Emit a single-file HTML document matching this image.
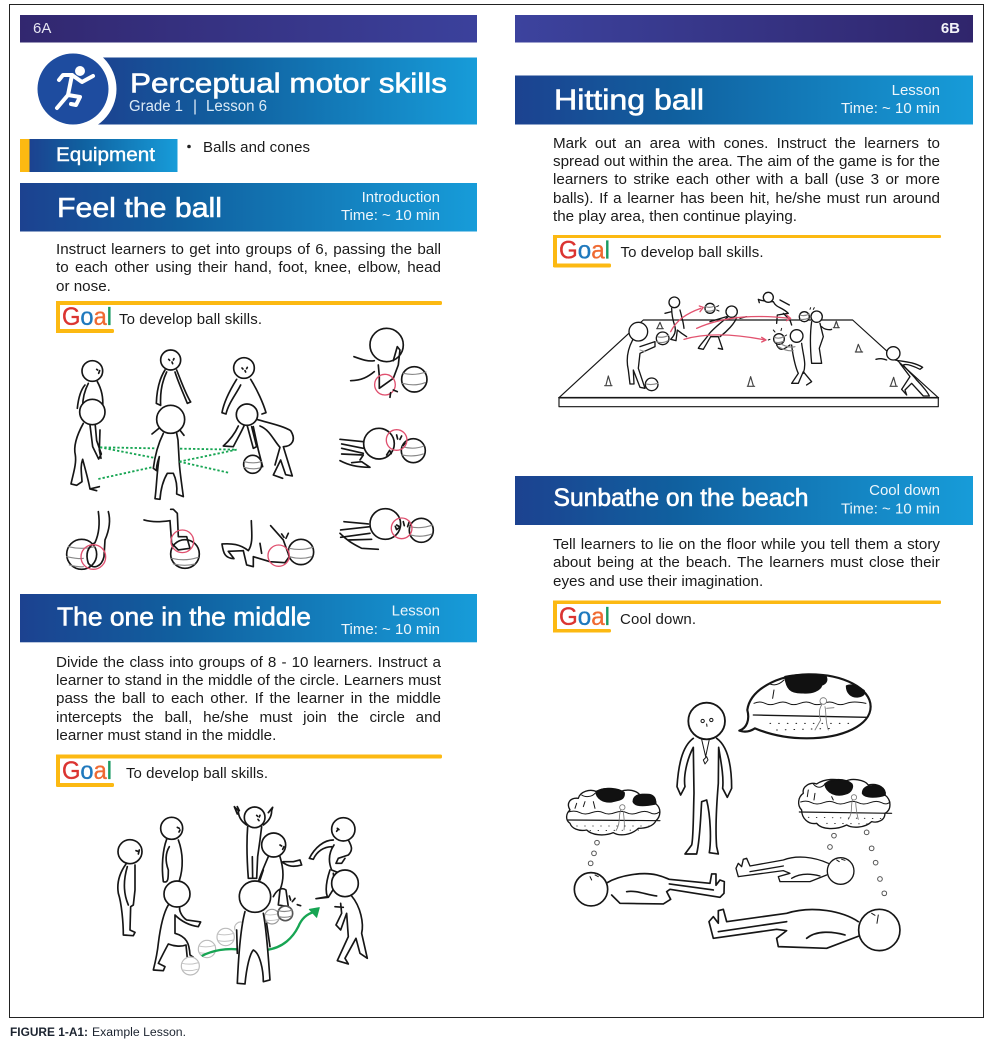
<!DOCTYPE html>
<html><head><meta charset="utf-8"><style>
html,body{margin:0;padding:0;background:#fff}
#p{position:relative;width:993px;height:1045px;overflow:hidden;filter:blur(.3px)}
svg{display:block}
text{font-family:"Liberation Sans",sans-serif}
.l{position:absolute;font:15.2px/18px "Liberation Sans",sans-serif;color:#1a1a1a;text-align:justify;text-align-last:justify;height:18px;overflow:hidden}
.a{left:56px;width:385px}
.c{left:553px;width:387px}
.n{text-align:left;text-align-last:left}
.b{font-size:15px;fill:#1a1a1a}
.t{fill:#fff;stroke:#fff;stroke-width:.6}
.r{fill:#eef6fb;font-size:15px;text-anchor:end}
.gl{stroke-width:.35}
.d path,.d circle,.d ellipse,.d polyline{fill:none;stroke:#161616;stroke-width:5;stroke-linecap:round;stroke-linejoin:round}
.d .w{fill:#fff}
.d .rc{stroke:#e0506f;stroke-width:4;fill:none}
.d .s{stroke:#888;stroke-width:3.5}
.d .g{stroke:#bbb;stroke-width:3.5;fill:#fff}
.d .gs{stroke:#c4c4c4;stroke-width:3}
.d .gr{stroke:#17a553;stroke-width:5.5;stroke-dasharray:7 6;stroke-linecap:butt}
.d .red{stroke:#e2536f;stroke-width:4}
</style></head><body><div id="p">
<svg width="993" height="1045" viewBox="0 0 993 1045" xmlns="http://www.w3.org/2000/svg">
<defs>
<linearGradient id="bar1"><stop offset="0" stop-color="#32276f"/><stop offset="1" stop-color="#3b419c"/></linearGradient>
<linearGradient id="bar2"><stop offset="0" stop-color="#3c439e"/><stop offset="1" stop-color="#30256c"/></linearGradient>
<linearGradient id="ban"><stop offset="0" stop-color="#1c4290"/><stop offset=".35" stop-color="#10609f"/><stop offset="1" stop-color="#179cd9"/></linearGradient>
</defs>
<rect width="993" height="1045" fill="#fff"/>
<rect x="9.5" y="4.5" width="974" height="1013" fill="none" stroke="#222" stroke-width="1"/>

<rect x="20" y="15" width="457" height="27.5" fill="url(#bar1)"/>
<text x="33" y="33" font-size="15" fill="#e6e6f2">6A</text>
<rect x="515" y="15" width="458" height="27.5" fill="url(#bar2)"/>
<text x="960" y="33" font-size="15" font-weight="bold" fill="#f2f2f8" text-anchor="end">6B</text>

<!-- main banner -->
<rect x="95" y="57.5" width="382" height="67" fill="url(#ban)"/>
<circle cx="73" cy="89" r="43.5" fill="#fff"/>
<circle cx="73" cy="89" r="35.5" fill="#1e4c9f"/>
<circle cx="80" cy="71" r="5" fill="#fff"/>
<g fill="none" stroke="#fff" stroke-width="4" stroke-linecap="round" stroke-linejoin="round">
<polyline points="59,80 63,75 72,75 82,82 93,76"/>
<polyline points="72,75 68,95 57,108"/>
<polyline points="68,95 80,97 76,105 71,104"/>
</g>
<text x="130" y="92.5" font-size="28" class="t" textLength="317" lengthAdjust="spacingAndGlyphs">Perceptual motor skills</text>
<g font-size="15.5" fill="#dbeaf6">
<text x="129" y="111" textLength="54" lengthAdjust="spacingAndGlyphs">Grade 1</text>
<text x="193" y="111">|</text>
<text x="206" y="111" textLength="61" lengthAdjust="spacingAndGlyphs">Lesson 6</text>
</g>

<!-- equipment -->
<rect x="20" y="139" width="9.5" height="33" fill="#fcb912"/>
<rect x="29.5" y="139" width="148" height="33" fill="url(#ban)"/>
<text x="56" y="161" font-size="19" class="t" style="stroke-width:.4" textLength="99" lengthAdjust="spacingAndGlyphs">Equipment</text>
<circle cx="189" cy="146.5" r="1.8" fill="#222"/>
<text x="203" y="152" class="b" textLength="107">Balls and cones</text>

<!-- Feel the ball -->
<rect x="20" y="183" width="457" height="48.5" fill="url(#ban)"/>
<text x="57" y="217" font-size="28" class="t" textLength="165" lengthAdjust="spacingAndGlyphs">Feel the ball</text>
<text x="440" y="202" class="r">Introduction</text>
<text x="440" y="220" class="r">Time: ~ 10 min</text>
<g fill="#fcb912">
<rect x="56" y="301" width="386" height="4" rx="1.5"/><rect x="56" y="301" width="4" height="32"/><rect x="56" y="329" width="58" height="4" rx="1.5"/>
</g>
<text x="62" y="325" font-size="25" class="gl" textLength="50" lengthAdjust="spacingAndGlyphs"><tspan fill="#db3431" stroke="#db3431">G</tspan><tspan fill="#1f79bd" stroke="#1f79bd">o</tspan><tspan fill="#ef6a32" stroke="#ef6a32">a</tspan><tspan fill="#1a9b63" stroke="#1a9b63">l</tspan></text>
<text x="119" y="324" class="b" textLength="143">To develop ball skills.</text>

<!-- Figure 1 -->
<g class="d" transform="translate(40,340) scale(.3333)">
<path d="M135 135C122 150 115 175 112 205M145 130C132 155 128 180 128 200M172 125C186 150 190 175 188 200"/>
<circle class="w" cx="157" cy="93" r="31"/><path d="M170 88l3 2M176 100l3-8"/>
<path d="M180 270l-2 60 5 25M150 255l8 65 18 37 8-15-14-40-5-55"/>
<path d="M130 250C108 290 100 320 106 345 110 370 100 400 93 432L110 436 126 425C125 400 120 380 128 358 135 385 145 420 150 447L178 440M150 447L170 452"/>
<circle class="w" cx="157" cy="216" r="38"/>
<path d="M375 90C356 120 350 160 349 190L362 196C360 160 366 125 380 96M410 90C422 120 436 160 452 186L442 190C430 160 416 130 405 96"/>
<circle class="w" cx="392" cy="60" r="30"/><path d="M386 58l3 3M402 56l-2 4M396 66l2 5"/>
<path d="M336 282L358 264M418 268L432 286"/>
<path d="M370 280C355 310 345 345 340 385L350 392C348 375 355 360 358 350 350 400 350 440 345 476L360 478C362 450 370 420 382 400L400 400C410 420 412 440 410 462L430 470C425 430 420 400 418 370L414 300 410 280"/>
<circle class="w" cx="392" cy="238" r="42"/>
<path d="M590 118C570 150 552 185 546 218L558 222C565 190 590 160 602 135M632 118C652 150 670 190 678 218L666 222"/>
<circle class="w" cx="612" cy="84" r="31"/><path d="M606 84l3 3M622 82l-2 4M615 92l2 4"/>
<path d="M595 258C585 280 570 300 550 318L580 320C590 300 602 280 612 258M622 258L640 325 650 320 635 260M640 260L655 330 668 380"/>
<circle class="w" cx="638" cy="373" r="27"/><path class="s" d="M613 365Q638 372 664 365M612 382Q638 390 660 384"/>
<path d="M650 238C690 250 730 258 752 272 770 300 755 320 730 320L757 408 737 404 722 360 700 405 728 415M660 258C690 270 700 300 720 322L705 375"/>
<circle class="w" cx="621" cy="224" r="32"/>
<path class="gr" d="M180 322L345 325M180 322L340 353M175 417L335 382M420 326L590 329M418 365L590 329M418 365L565 398"/>
<circle cx="125" cy="643" r="45"/><path class="s" d="M85 620Q125 630 165 620M80 650Q120 658 130 655M88 675Q115 682 130 680"/>
<path d="M175 515C180 550 178 580 165 608 145 620 135 640 145 670 160 690 185 680 192 650L195 600C208 570 212 540 205 515"/>
<circle class="rc" cx="160" cy="651" r="37"/>
<circle cx="435" cy="642" r="43"/><path class="s" d="M395 655Q435 665 475 652M400 672Q435 680 465 672"/>
<path d="M312 540C340 548 365 545 390 542L395 610 415 630 450 625 440 590 415 590 412 520 400 508 392 508"/>
<circle class="rc" cx="427" cy="604" r="34"/>
<circle cx="783" cy="636" r="38"/><path class="s" d="M748 625Q783 633 818 622M748 650Q783 660 815 650"/>
<path d="M634 542C635 580 640 610 625 632 600 612 575 610 546 612 550 640 555 655 582 656L565 634 610 632 620 675 640 680 640 650 690 665 735 668 748 650 730 600 692 557M660 610L665 640M725 582L732 592M745 580L738 595"/>
<circle class="rc" cx="716" cy="647" r="32"/>
<circle cx="1040" cy="15" r="50"/>
<path d="M942 50C970 60 985 65 1003 62M932 122C965 122 985 110 1003 95M1015 75L1018 108 1018 145 1060 115 1075 75 1080 30 1072 20 1060 62"/>
<circle cx="1123" cy="118" r="38"/><path class="s" d="M1090 100Q1123 108 1158 96M1088 130Q1123 140 1155 128"/>
<circle class="rc" cx="1035" cy="134" r="31"/><path d="M1060 150L1072 155M1052 158L1050 172"/>
<path d="M900 298L970 305M905 312L970 325M905 325L970 340M905 342L970 345 960 360M900 362C925 375 950 382 990 382L965 365 935 368"/>
<circle cx="1017" cy="311" r="46"/>
<path d="M1040 345l9-14 5 10"/><path d="M1070 285l3 12M1085 288l-5 10M1095 310l-5 6"/>
<circle cx="1120" cy="332" r="36"/><path class="s" d="M1088 320Q1120 330 1152 318M1086 345Q1120 352 1150 342"/>
<circle class="rc" cx="1070" cy="300" r="31"/>
<path d="M912 545L985 552M902 570L990 560M902 592L990 580M925 600L995 598M900 580C920 600 935 610 965 625L1015 628"/>
<circle cx="1036" cy="552" r="46"/>
<path d="M1070 555l10 6-10 8-4-10M1090 545l3 12M1108 545l-5 15"/>
<circle cx="1144" cy="571" r="36"/><path class="s" d="M1110 560Q1144 568 1178 555M1112 585Q1144 594 1176 582"/>
<circle class="rc" cx="1085" cy="565" r="31"/>
</g>

<!-- The one in the middle -->
<rect x="20" y="594" width="457" height="48.3" fill="url(#ban)"/>
<text x="57" y="625.5" font-size="26" class="t" textLength="254" lengthAdjust="spacingAndGlyphs">The one in the middle</text>
<text x="440" y="615.7" class="r">Lesson</text>
<text x="440" y="634" class="r">Time: ~ 10 min</text>
<g fill="#fcb912">
<rect x="56" y="754.5" width="386" height="4" rx="1.5"/><rect x="56" y="754.5" width="4" height="32"/><rect x="56" y="783" width="58" height="4" rx="1.5"/>
</g>
<text x="62" y="779" font-size="25" class="gl" textLength="50" lengthAdjust="spacingAndGlyphs"><tspan fill="#db3431" stroke="#db3431">G</tspan><tspan fill="#1f79bd" stroke="#1f79bd">o</tspan><tspan fill="#ef6a32" stroke="#ef6a32">a</tspan><tspan fill="#1a9b63" stroke="#1a9b63">l</tspan></text>
<text x="126" y="778" class="b" textLength="142">To develop ball skills.</text>

<!-- Figure 2 -->
<g class="d" transform="translate(100,790) scale(.3333)">
<path d="M78 222C58 250 50 280 55 310 65 340 70 400 70 435L100 437 105 427 90 420 92 350 100 345 105 300 105 225M82 230C70 270 70 310 85 345"/>
<circle class="w" cx="90" cy="185" r="36"/><path d="M108 182l6 2M118 180l-3 12"/>
<path d="M200 148C188 180 184 230 190 275 205 280 205 265 205 240 196 215 196 190 208 170M235 150C250 190 250 235 238 272"/>
<circle class="w" cx="215" cy="115" r="33"/><path d="M232 112l6 3M240 120l-3 6"/>
<path d="M205 345C190 370 180 420 175 460 172 490 165 520 160 540L190 542 195 530 175 520C185 500 195 480 205 462 225 470 245 470 258 465L262 505 250 522 280 502 270 495C268 460 260 440 225 430L225 375C240 390 260 405 295 410L302 396 260 390C245 380 235 360 240 348"/>
<circle class="g" cx="271" cy="528" r="27"/><path class="gs" d="M246 520Q270 526 296 518M250 540Q270 545 292 538"/>
<circle class="w" cx="231" cy="312" r="39"/>
<circle class="g" cx="321" cy="477" r="26"/><path class="gs" d="M297 468Q321 474 346 466M298 488Q321 493 344 486"/>
<circle class="g" cx="377" cy="441" r="26"/><path class="gs" d="M352 432Q377 438 402 430M354 452Q377 457 400 450"/>
<path class="g" d="M405 420A18 18 0 0 1 430 398"/>
<path d="M440 105C425 95 415 80 415 62L403 50 412 72M412 50L418 62M490 105C505 95 515 80 515 62L518 52 505 68M443 110C440 150 440 200 445 265L470 265 473 200 480 150 485 110M457 200L458 265"/>
<circle class="w" cx="464" cy="82" r="31"/><path d="M470 76l3 3M480 76l-2 5M474 88l3 4"/>
<path d="M505 200C492 230 480 260 475 275M490 240L480 270M540 200C552 240 552 270 540 300L535 345 565 350 558 300C545 290 530 300 520 320M545 215C565 230 580 232 605 225L600 210 580 215 550 215"/>
<circle class="w" cx="521" cy="165" r="36"/><path d="M540 165l5 3M552 170l-4 8"/>
<circle class="g" cx="516" cy="380" r="22" style="stroke:#999"/><path class="gs" d="M496 373Q516 378 538 370M498 390Q516 394 535 388"/>
<circle cx="556" cy="370" r="22" style="stroke:#555;fill:#fff"/><path class="s" d="M536 362Q556 368 577 360M538 380Q556 385 575 378"/>
<path d="M568 318l4 12M585 325l-8 10M602 347l-10-3"/>
<path class="gr" style="stroke-dasharray:none;stroke-width:7" d="M305 498C340 480 380 475 412 478M497 480C550 475 580 440 595 410 605 385 620 372 642 366"/>
<path d="M628 358L658 353 650 382Z" style="fill:#17a553;stroke:#17a553;stroke-width:3"/>
<path d="M700 150C672 150 645 172 628 205L640 208C650 185 672 170 695 170M745 150C755 168 760 180 745 195L715 205 708 220 725 220 735 205M702 165C685 190 685 215 695 240L720 250M690 240C680 270 675 300 682 320L648 326 685 322 705 290 700 250"/>
<circle class="w" cx="730" cy="118" r="35"/><path d="M712 115l5 4M710 124l4-6"/>
<path d="M755 318C782 350 792 400 785 430L802 505 780 490 768 445 735 505 745 522 712 512 745 440 740 370 722 420 708 405 725 370 722 340M705 350L730 352"/>
<circle class="w" cx="735" cy="280" r="40"/>
<path class="w" d="M435 365C420 420 415 510 412 580L435 582C440 530 450 490 460 480 480 490 490 540 490 575L510 570C505 500 500 420 490 370M410 420L412 490M500 400L510 470"/>
<circle class="w" cx="465" cy="320" r="47"/>
</g>

<!-- Hitting ball -->
<rect x="515" y="75.5" width="458" height="49" fill="url(#ban)"/>
<text x="554" y="109.5" font-size="29" class="t" textLength="150" lengthAdjust="spacingAndGlyphs">Hitting ball</text>
<text x="940" y="95" class="r">Lesson</text>
<text x="940" y="113" class="r">Time: ~ 10 min</text>
<g fill="#fcb912">
<rect x="553" y="235" width="388" height="3" rx="1"/><rect x="553" y="235" width="4" height="32"/><rect x="553" y="263.5" width="58" height="4" rx="1.5"/>
</g>
<text x="559" y="258.5" font-size="25" class="gl" textLength="51" lengthAdjust="spacingAndGlyphs"><tspan fill="#db3431" stroke="#db3431">G</tspan><tspan fill="#1f79bd" stroke="#1f79bd">o</tspan><tspan fill="#ef6a32" stroke="#ef6a32">a</tspan><tspan fill="#1a9b63" stroke="#1a9b63">l</tspan></text>
<text x="620.5" y="257" class="b" textLength="143">To develop ball skills.</text>

<!-- Figure 3 -->
<g class="d" transform="translate(540,280) scale(.3333)">
<path style="stroke-width:3.5" d="M310 120L938 120 1195 353 57 353Z"/>
<path style="stroke-width:5" d="M57 353L1195 353"/>
<path style="stroke-width:3.5" d="M57 353L57 380 1195 380 1195 353"/>
<path style="stroke-width:3.5;stroke:#444" d="M194 317L216 317M198 315L205 288 213 315M622 319L644 319M624 317L632 290 640 317M1050 319L1072 319M1052 317L1061 292 1068 317M946 216L968 216M948 214L955 193 964 214M880 143L898 143M883 141L889 124 895 141M350 146L370 146M352 144L360 127 367 144"/>
<path style="stroke-width:4" d="M395 85C395 105 400 125 405 140 410 160 395 175 392 178L408 182 412 150 425 160 440 170M420 90C425 110 430 125 432 145M375 100L395 95"/>
<circle class="w" style="stroke-width:4" cx="403" cy="67" r="16"/>
<path style="stroke-width:4" d="M565 110C540 130 515 150 505 165 495 180 480 195 475 205L490 208 512 170 535 170 548 208 535 205M590 112C585 130 560 155 540 170M600 115L620 110M510 125L560 110"/>
<circle class="w" style="stroke-width:4" cx="575" cy="95" r="17"/>
<circle class="w" style="stroke-width:4" cx="510" cy="85" r="15"/><path class="s" d="M497 80Q510 85 524 78M497 92Q510 96 522 90"/><path style="stroke-width:3" d="M530 80l6-3M530 90l7 3"/>
<path style="stroke-width:4" d="M700 65C710 85 725 80 745 100L712 105 710 130M730 100L750 120 755 135M700 65C680 65 665 62 655 58L658 68M720 60L748 75"/>
<circle class="w" style="stroke-width:4" cx="685" cy="52" r="15"/>
<path style="stroke-width:4" d="M815 125C810 160 810 200 815 250L845 250 838 205 850 170 840 130M845 140C855 150 870 150 875 148"/>
<circle class="w" style="stroke-width:4" cx="830" cy="110" r="17"/>
<circle class="w" style="stroke-width:4" cx="793" cy="110" r="15"/><path class="s" d="M780 105Q793 110 808 102M782 118Q793 120 805 115"/><path style="stroke-width:3" d="M810 88l2-5M820 88l3-5"/>
<path style="stroke-width:4" d="M755 195C760 240 770 270 775 280L755 310 775 310 790 275 815 305 800 315M785 190C790 230 800 250 790 280M750 195C730 210 720 215 710 195"/>
<circle class="w" style="stroke-width:4" cx="770" cy="168" r="19"/>
<circle class="w" style="stroke-width:4" cx="717" cy="177" r="16"/><path class="s" d="M703 172Q717 178 732 170M705 186Q717 190 730 184"/><path style="stroke-width:3" d="M690 178l-5 2M700 150l5 6M725 145l-2 7M740 165l-5 3"/>
<path class="s" d="M715 200Q740 215 760 212M720 190Q745 205 765 200"/>
<path style="stroke-width:4" d="M278 180C262 210 258 240 265 270L270 312 282 312 280 270 300 322 315 325 295 265 300 220 345 200 345 185 300 200"/>
<path style="stroke:#999;stroke-width:3" d="M300 210L315 215"/>
<circle class="w" style="stroke-width:4" cx="295" cy="155" r="28"/>
<circle class="w" style="stroke-width:4" cx="368" cy="175" r="19"/><path class="s" d="M352 170Q368 175 386 166M350 185Q368 192 384 182"/>
<circle class="w" style="stroke-width:4" cx="335" cy="313" r="19"/><path class="s" d="M318 312Q335 316 354 310"/>
<path class="red" d="M392 155C410 120 440 100 482 85M478 78L490 82 480 95"/>
<path class="red" d="M470 145C560 105 660 105 750 115M740 105L752 115 740 122"/>
<path class="red" d="M432 178C510 155 600 165 676 180M665 172L678 180 665 186"/>
<path style="stroke-width:4" d="M1065 240C1090 245 1120 245 1148 262L1140 268C1120 258 1100 250 1090 255 1100 270 1120 285 1130 300 1150 320 1165 340 1168 348L1150 348 1115 310 1095 330 1100 345 1085 328 1110 290 1080 250M1040 240C1025 235 1020 235 1008 238"/>
<circle class="w" style="stroke-width:4" cx="1060" cy="220" r="20"/>
</g>

<!-- Sunbathe -->
<rect x="515" y="476" width="458" height="49" fill="url(#ban)"/>
<text x="553.5" y="506" font-size="25" class="t" textLength="255" lengthAdjust="spacingAndGlyphs">Sunbathe on the beach</text>
<text x="940" y="495" class="r">Cool down</text>
<text x="940" y="513.3" class="r">Time: ~ 10 min</text>
<g fill="#fcb912">
<rect x="553" y="600.5" width="388" height="3.5" rx="1"/><rect x="553" y="600.5" width="4" height="32"/><rect x="553" y="629" width="58" height="3.5" rx="1.5"/>
</g>
<text x="559" y="625" font-size="25" class="gl" textLength="51" lengthAdjust="spacingAndGlyphs"><tspan fill="#db3431" stroke="#db3431">G</tspan><tspan fill="#1f79bd" stroke="#1f79bd">o</tspan><tspan fill="#ef6a32" stroke="#ef6a32">a</tspan><tspan fill="#1a9b63" stroke="#1a9b63">l</tspan></text>
<text x="620" y="624" class="b" textLength="76">Cool down.</text>

<!-- Figure 4 -->
<g class="d" transform="translate(550,660) scale(.3333)">
<path d="M430 235C395 260 385 320 381 380L392 405 405 380C400 350 410 300 430 262L432 400C430 470 430 540 425 555L405 582 440 582C450 540 452 470 455 425L470 420C482 470 484 540 478 578L505 582 500 560C495 500 500 430 505 370L506 262C512 300 522 350 518 385L532 412 545 385C545 320 535 260 500 235"/>
<path style="stroke-width:3" d="M455 238L467 290 478 238M460 300L470 290 474 300 465 312Z"/>
<circle class="w" style="stroke-width:5.5" cx="470" cy="183" r="55"/>
<circle style="stroke-width:3" cx="458" cy="183" r="5"/><circle style="stroke-width:3" cx="484" cy="180" r="5"/><path style="stroke-width:3" d="M470 192l1 7"/>
<path style="stroke-width:6.5" d="M568 212C590 205 600 180 592 150 600 90 680 45 775 43 880 42 962 85 962 140 962 195 880 235 770 235 700 235 650 220 615 205 600 215 585 218 568 212Z"/>
<path style="fill:#111;stroke:#111" d="M705 50C710 85 720 100 760 98 785 100 810 92 815 75 830 70 832 60 828 50 790 42 740 42 705 50ZM890 78C890 100 905 112 925 110 942 108 945 100 942 92 925 80 905 72 890 78Z"/>
<path style="stroke-width:3" d="M660 72C675 78 690 72 702 60M672 90L668 115"/>
<path style="stroke-width:3" d="M612 130Q630 122 645 130T680 130T715 130T750 130T785 130T820 130T855 130T890 130T948 130"/>
<path style="stroke-width:4" d="M610 165L950 172"/>
<path style="stroke:#777;stroke-width:2.5" d="M815 135C805 150 808 170 812 180L795 210M825 140C830 165 825 180 835 210M830 145L852 143"/>
<circle class="w" style="stroke:#777;stroke-width:2.5" cx="820" cy="123" r="10"/>
<path style="stroke-width:3;stroke-dasharray:2 24" d="M660 190L900 190M680 210L860 205"/>
<path style="stroke-width:4" d="M60 490C45 480 48 460 60 450 48 430 60 412 85 415 90 395 120 385 140 395 160 380 190 385 210 395 235 385 260 392 270 405 295 398 318 410 318 432 335 445 332 470 318 482 310 500 285 505 265 505 245 525 210 530 190 518 160 530 125 525 110 510 85 515 65 505 60 490Z"/>
<path style="fill:#111;stroke:#111" d="M138 395C140 415 160 428 185 425 205 420 225 420 222 398 205 385 170 380 138 395ZM250 425C255 440 285 438 315 432 320 412 305 400 285 405 265 400 250 410 250 425Z"/>
<path style="stroke-width:3" d="M95 405C105 412 125 412 135 400M80 430L75 445M105 425L100 440M130 425L135 445"/>
<path style="stroke-width:3" d="M55 456Q75 450 90 458T125 458T160 458T195 458T230 458T265 458T300 458T328 456"/>
<path style="stroke-width:3.5" d="M52 480L330 482"/>
<path style="stroke:#777;stroke-width:2.5" d="M212 450C205 470 212 490 198 512M220 455C222 475 225 490 222 510"/>
<circle class="w" style="stroke:#777;stroke-width:2.5" cx="217" cy="442" r="8"/>
<path style="stroke-width:2.5;stroke-dasharray:2 22" d="M80 498L300 498M120 512L280 510"/>
<path style="stroke-width:4" d="M755 450C740 435 745 410 760 400 755 380 780 365 800 372 825 355 860 355 885 365 905 352 945 360 955 375 985 368 1008 385 1005 405 1025 420 1025 450 1005 460 1005 480 985 490 965 485 945 505 905 505 890 495 860 510 815 510 800 490 775 495 755 475 755 450Z"/>
<path style="fill:#111;stroke:#111" d="M825 372C830 400 860 410 885 402 905 398 910 380 905 372 885 355 845 355 825 372ZM938 400C945 415 985 412 1005 405 1008 385 985 372 965 378 950 378 938 385 938 400Z"/>
<path style="stroke-width:3" d="M790 372C800 385 815 385 825 372M775 390L772 410M795 400L792 420M845 410L850 420"/>
<path style="stroke-width:3" d="M752 426Q770 420 785 428T820 428T855 428T890 428T925 428T960 428T995 428T1020 426"/>
<path style="stroke-width:3.5" d="M748 456L1025 460"/>
<path style="stroke:#777;stroke-width:2.5" d="M907 420C902 445 908 460 895 478M917 425C918 445 920 460 925 478"/>
<circle class="w" style="stroke:#777;stroke-width:2.5" cx="912" cy="412" r="8"/>
<path style="stroke-width:2.5;stroke-dasharray:2 22" d="M775 472L1000 476M830 490L960 492"/>
<circle style="stroke:#555;stroke-width:3" cx="141" cy="548" r="7"/><circle style="stroke:#555;stroke-width:3" cx="132" cy="580" r="7"/><circle style="stroke:#555;stroke-width:3" cx="122" cy="610" r="7"/>
<circle style="stroke:#555;stroke-width:3" cx="852" cy="527" r="7"/><circle style="stroke:#555;stroke-width:3" cx="840" cy="561" r="7"/>
<circle style="stroke:#555;stroke-width:3" cx="950" cy="517" r="7"/><circle style="stroke:#555;stroke-width:3" cx="965" cy="565" r="7"/><circle style="stroke:#555;stroke-width:3" cx="977" cy="608" r="7"/><circle style="stroke:#555;stroke-width:3" cx="990" cy="657" r="7"/><circle style="stroke:#555;stroke-width:3" cx="1003" cy="700" r="7"/>
<path d="M172 668C210 645 280 635 320 645 340 650 350 655 358 658L480 670 485 642 498 642 498 676 510 660 523 665 522 700 510 712 360 688 350 695 362 718 340 732 210 730 185 705M358 672L490 690M230 695C260 690 290 705 320 708"/>
<circle class="w" cx="123" cy="688" r="50"/><path style="stroke-width:3" d="M120 650l5 10M135 645l10 5"/>
<path style="stroke-width:4" d="M835 610C790 590 740 585 700 600L600 618 590 595 580 598 575 620 565 610 558 625 565 650 700 632 720 640 685 650 690 665 780 665 830 645M600 635L700 618M725 655C750 640 780 640 810 648"/>
<circle class="w" style="stroke-width:4" cx="872" cy="633" r="40"/><path style="stroke-width:3" d="M860 600l8 5M875 598l10 3"/>
<path d="M925 785C880 755 790 735 710 760L530 785 520 748 505 752 505 790 490 770 477 785 490 835 680 808 710 812 680 835 685 860 830 865 935 825M505 815L710 785M770 835C800 810 850 815 885 825"/>
<circle class="w" cx="988" cy="810" r="62"/><path style="stroke-width:3" d="M965 760l10 6M985 765l-4 25"/>
</g>

<text x="10" y="1036" font-size="11.5" font-weight="bold" fill="#1c2430" textLength="78" lengthAdjust="spacingAndGlyphs">FIGURE 1-A1:</text>
<text x="92" y="1036" font-size="11.5" fill="#1c2430" textLength="94" lengthAdjust="spacingAndGlyphs">Example Lesson.</text>
</svg>

<div class="l a" style="top:241px">Instruct learners to get into groups of 6, passing the ball</div>
<div class="l a" style="top:259.3px">to each other using their hand, foot, knee, elbow, head</div>
<div class="l a n" style="top:277.7px">or nose.</div>

<div class="l a" style="top:653.5px">Divide the class into groups of 8 - 10 learners. Instruct a</div>
<div class="l a" style="top:671.8px">learner to stand in the middle of the circle. Learners must</div>
<div class="l a" style="top:690.1px">pass the ball to each other. If the learner in the middle</div>
<div class="l a" style="top:708.5px">intercepts the ball, he/she must join the circle and another</div>
<div class="l a n" style="top:726.8px">learner must stand in the middle.</div>

<div class="l c" style="top:134.5px">Mark out an area with cones. Instruct the learners to</div>
<div class="l c" style="top:152.7px">spread out within the area. The aim of the game is for the</div>
<div class="l c" style="top:171px">learners to strike each other with a ball (use 3 or more</div>
<div class="l c" style="top:189.5px">balls). If a learner has been hit, he/she must run around</div>
<div class="l c n" style="top:207.7px">the play area, then continue playing.</div>

<div class="l c" style="top:535.8px">Tell learners to lie on the floor while you tell them a story</div>
<div class="l c" style="top:554.2px">about being at the beach. The learners must close their</div>
<div class="l c n" style="top:572.5px">eyes and use their imagination.</div>
</div></body></html>
